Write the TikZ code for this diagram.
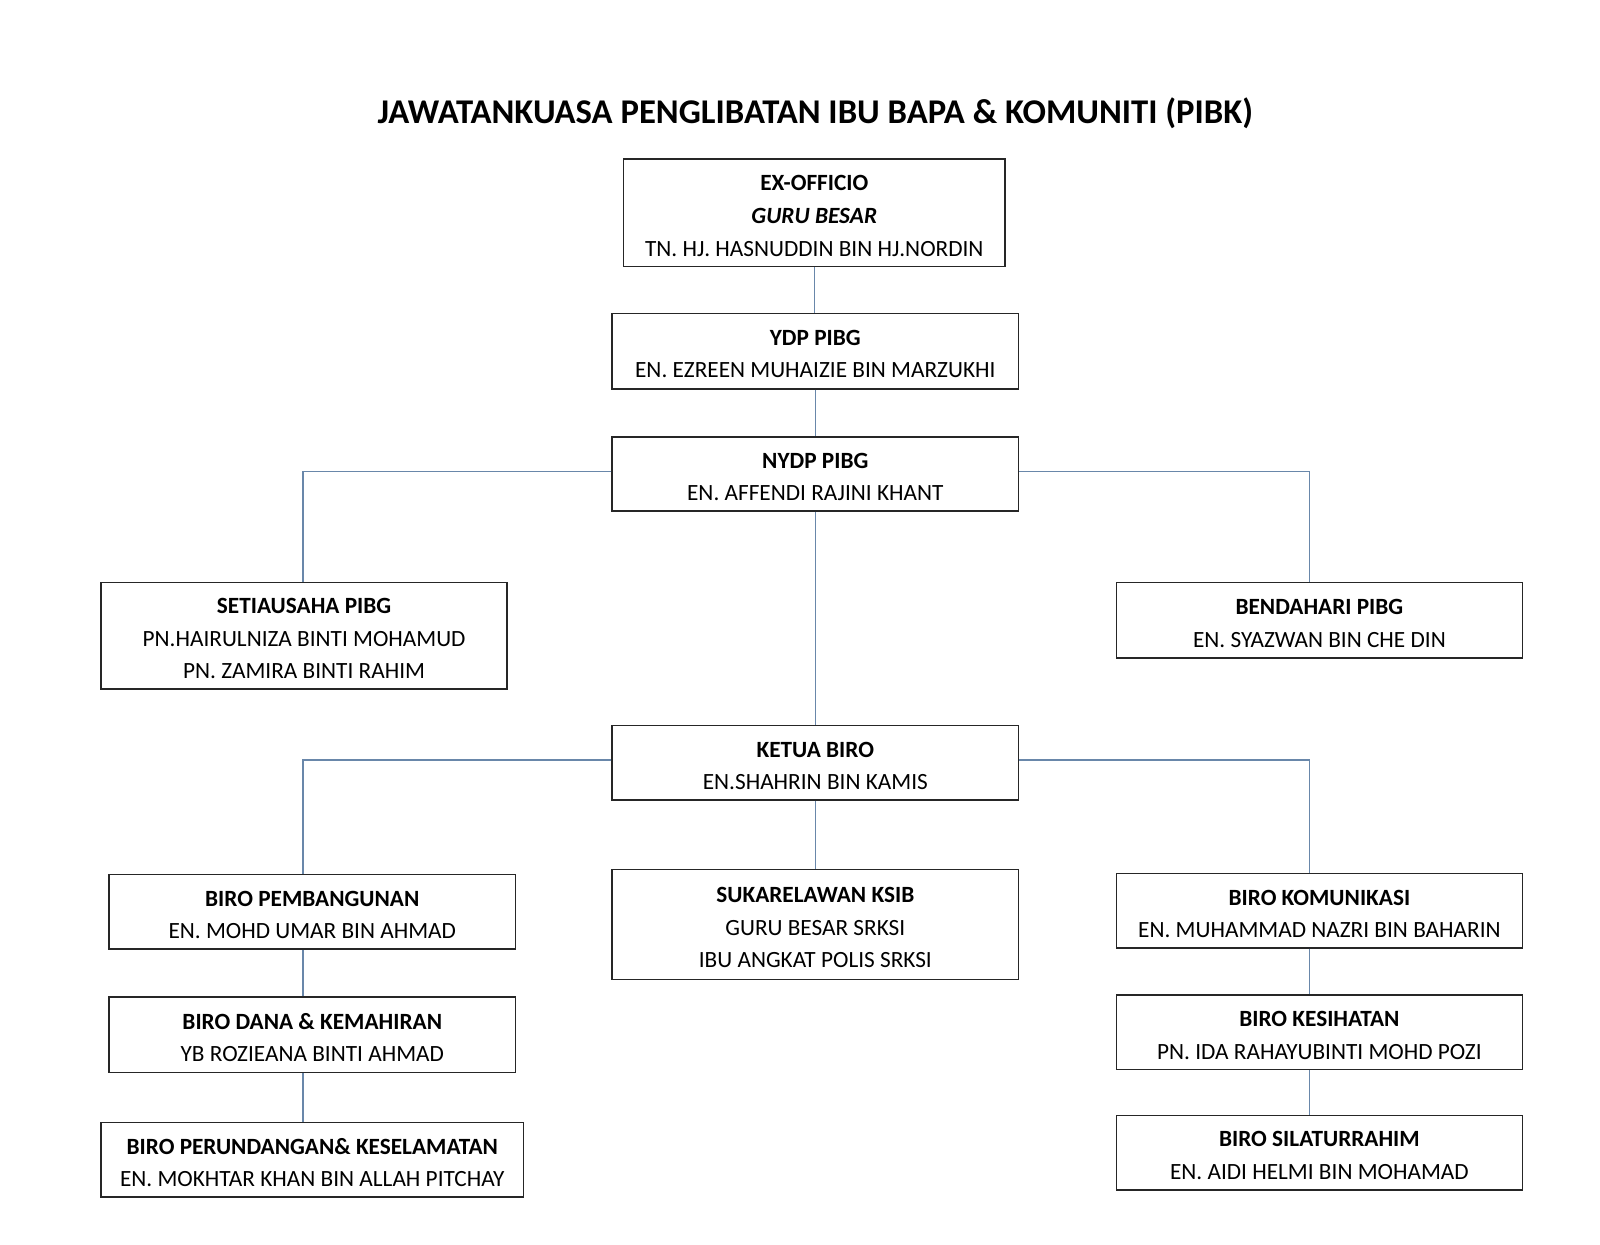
\documentclass[tikz,border=0pt]{standalone}
\usepackage{fontspec}
\setmainfont{Carlito}
\newcommand\topstrut{\rule{0pt}{10.5pt}}
\begin{document}
\begin{tikzpicture}[x=0.5pt,y=-0.5pt,
  orgbox/.style={draw=black!85, line width=0.75pt, fill=white, inner sep=0pt, align=center,
    minimum width=199pt, minimum height=36.5pt, font=\fontsize{11.4}{16}\selectfont},
  conn/.style={draw={rgb,255:red,105;green,135;blue,170}, line width=0.7pt}]
\useasboundingbox (0,0) rectangle (1568,1220);
\node[font=\fontsize{17}{20}\selectfont\bfseries] (title) at (799,111) {JAWATANKUASA PENGLIBATAN IBU BAPA \& KOMUNITI (PIBK)};

\node[orgbox, minimum width=187pt, minimum height=52.5pt] (ex) at (798,208.5)
  {\topstrut\textbf{EX-OFFICIO}\\ \textbf{\textit{GURU BESAR}}\\ TN. HJ. HASNUDDIN BIN HJ.NORDIN};
\node[orgbox, minimum height=37pt] (ydp) at (799,344)
  {\topstrut\textbf{YDP PIBG}\\ EN. EZREEN MUHAIZIE BIN MARZUKHI};
\node[orgbox] (nydp) at (799,464.5)
  {\topstrut\textbf{NYDP PIBG}\\ EN. AFFENDI RAJINI KHANT};
\node[orgbox, minimum height=52pt] (setia) at (298,623)
  {\topstrut\textbf{SETIAUSAHA PIBG}\\ PN.HAIRULNIZA BINTI MOHAMUD\\ PN. ZAMIRA BINTI RAHIM};
\node[orgbox, minimum height=37pt] (benda) at (1293,608)
  {\topstrut\textbf{BENDAHARI PIBG}\\ EN. SYAZWAN BIN CHE DIN};
\node[orgbox] (ketua) at (799,747.5)
  {\topstrut\textbf{KETUA BIRO}\\ EN.SHAHRIN BIN KAMIS};
\node[orgbox] (pemb) at (306,893.5)
  {\topstrut\textbf{BIRO PEMBANGUNAN}\\ EN. MOHD UMAR BIN AHMAD};
\node[orgbox, minimum height=54pt] (suka) at (799,906)
  {\topstrut\textbf{SUKARELAWAN KSIB}\\ GURU BESAR SRKSI\\ IBU ANGKAT POLIS SRKSI};
\node[orgbox] (komu) at (1293,892.5)
  {\topstrut\textbf{BIRO KOMUNIKASI}\\ EN. MUHAMMAD NAZRI BIN BAHARIN};
\node[orgbox, minimum height=37pt] (dana) at (306,1014)
  {\topstrut\textbf{BIRO DANA \& KEMAHIRAN}\\ YB ROZIEANA BINTI AHMAD};
\node[orgbox, minimum width=207pt] (perund) at (306,1136.5)
  {\topstrut\textbf{BIRO PERUNDANGAN\& KESELAMATAN}\\ EN. MOKHTAR KHAN BIN ALLAH PITCHAY};
\node[orgbox] (kesi) at (1293,1011.5)
  {\topstrut\textbf{BIRO KESIHATAN}\\ PN. IDA RAHAYUBINTI MOHD POZI};
\node[orgbox] (silat) at (1293,1129.5)
  {\topstrut\textbf{BIRO SILATURRAHIM}\\ EN. AIDI HELMI BIN MOHAMAD};

\coordinate (lx) at (297,0);
\coordinate (rx) at (1283.5,0);
\coordinate (ny) at (0,462);
\coordinate (ky) at (0,745);

\draw[conn] (ex.south) -- (ex.south |- ydp.north);
\draw[conn] (ydp.south) -- (nydp.north);
\draw[conn] (nydp.west |- ny) -| (setia.north -| lx);
\draw[conn] (nydp.east |- ny) -| (benda.north -| rx);
\draw[conn] (nydp.south) -- (ketua.north);
\draw[conn] (ketua.west |- ky) -| (pemb.north -| lx);
\draw[conn] (ketua.east |- ky) -| (komu.north -| rx);
\draw[conn] (ketua.south) -- (suka.north);
\draw[conn] (pemb.south -| lx) -- (dana.north -| lx);
\draw[conn] (dana.south -| lx) -- (perund.north -| lx);
\draw[conn] (komu.south -| rx) -- (kesi.north -| rx);
\draw[conn] (kesi.south -| rx) -- (silat.north -| rx);
\end{tikzpicture}
\end{document}
